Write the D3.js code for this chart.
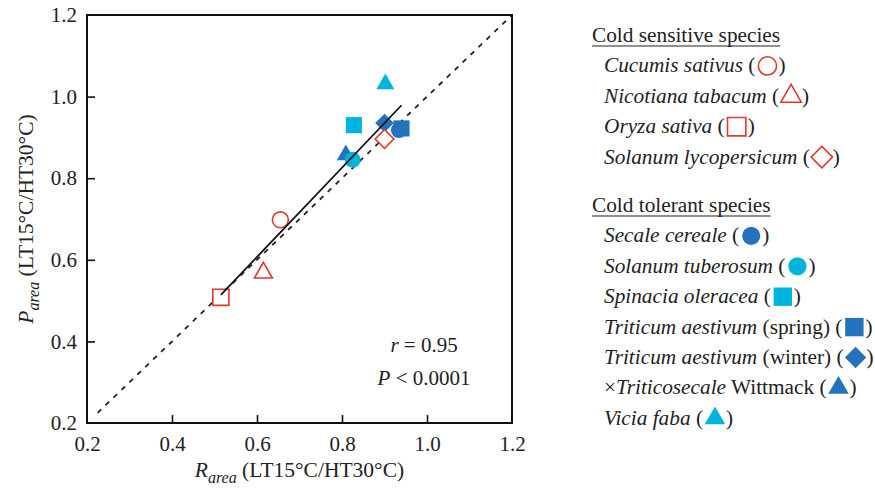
<!DOCTYPE html>
<html>
<head>
<meta charset="utf-8">
<script src="https://cdn.jsdelivr.net/npm/d3@7"></script>
<style>
  body { margin: 0; background: #fff; }
  svg { font-family: 'Liberation Serif', 'Times New Roman', serif; }
</style>
</head>
<body>
<svg width="875" height="489"></svg>
<script>
const SPECIES = [
  [['Cucumis sativus', true], [' (', false]],
  [['Nicotiana tabacum', true], [' (', false]],
  [['Oryza sativa', true], [' (', false]],
  [['Solanum lycopersicum', true], [' (', false]],
  [['Secale cereale', true], [' (', false]],
  [['Solanum tuberosum', true], [' (', false]],
  [['Spinacia oleracea', true], [' (', false]],
  [['Triticum aestivum', true], [' (spring) (', false]],
  [['Triticum aestivum', true], [' (winter) (', false]],
  [['×', false], ['Triticosecale', true], [' Wittmack (', false]],
  [['Vicia faba', true], [' (', false]]
];
const GROUP = ['sensitive', 'sensitive', 'sensitive', 'sensitive',
  'tolerant', 'tolerant', 'tolerant', 'tolerant', 'tolerant', 'tolerant', 'tolerant'];
const SHAPES = ['circle', 'triangle', 'square', 'diamond',
  'circle', 'circle', 'square', 'square', 'diamond', 'triangle', 'triangle'];
const COLORS = ['#db3a2e', '#db3a2e', '#db3a2e', '#db3a2e',
  '#2272bc', '#00b5dd', '#00b5dd', '#2272bc', '#2272bc', '#2272bc', '#00b5dd'];
const R_AREA = [0.655, 0.615, 0.515, 0.900, 0.934, 0.825, 0.828, 0.940, 0.900, 0.809, 0.902];
const P_AREA = [0.698, 0.568, 0.508, 0.896, 0.918, 0.845, 0.930, 0.922, 0.935, 0.857, 1.031];
const DRAW_ORDER = [9, 4, 7, 8, 5, 6, 10, 0, 1, 2, 3];
const HEADERS = ['Cold sensitive species', 'Cold tolerant species'];
const TICKS = [0.2, 0.4, 0.6, 0.8, 1.0, 1.2];
const STATS = [[['r', true], [' = 0.95', false]], [['P', true], [' < 0.0001', false]]];

const svg = d3.select('svg');
const margin = { top: 15, left: 87 };
const width = 425, height = 408;
const fs = 21;
const g = svg.append('g').attr('transform', `translate(${margin.left},${margin.top})`);

const x = d3.scaleLinear().domain([0.2, 1.2]).range([0, width]);
const y = d3.scaleLinear().domain([0.2, 1.2]).range([height, 0]);

const symbolType = { circle: d3.symbolCircle, triangle: d3.symbolTriangle, square: d3.symbolSquare, diamond: d3.symbolSquare };
const symbolSize = { circle: 200, triangle: 140, square: 260, diamond: 175 };

function marker(sel, i, scale) {
  const s = SHAPES[i];
  const open = GROUP[i] === 'sensitive';
  sel.append('path')
      .attr('d', d3.symbol().type(symbolType[s]).size(symbolSize[s] * scale)())
      .attr('transform', s === 'diamond' ? 'rotate(45)' : null)
      .attr('fill', open ? '#fff' : COLORS[i])
      .attr('stroke', open ? COLORS[i] : 'none')
      .attr('stroke-width', 1.6);
}

function richText(sel, parts) {
  sel.selectAll('tspan').data(parts).enter().append('tspan')
      .attr('font-style', d => d[1] ? 'italic' : 'normal')
      .text(d => d[0]);
  return sel;
}

// 1:1 line
g.append('line')
    .attr('x1', x(0.225)).attr('y1', y(0.225))
    .attr('x2', x(1.2)).attr('y2', y(1.2))
    .attr('stroke', '#222').attr('stroke-width', 1.8)
    .attr('stroke-dasharray', '5,6');

// points
DRAW_ORDER.forEach(i => {
  g.append('g')
      .attr('transform', `translate(${x(R_AREA[i])},${y(P_AREA[i])})`)
      .call(sel => marker(sel, i, 1));
});

// regression line
const mx = d3.mean(R_AREA), my = d3.mean(P_AREA);
const slope = d3.sum(R_AREA, (v, i) => (v - mx) * (P_AREA[i] - my)) / d3.sum(R_AREA, v => (v - mx) ** 2);
const icpt = my - slope * mx;
const [xmin, xmax] = d3.extent(R_AREA);
g.append('line')
    .attr('x1', x(xmin)).attr('y1', y(icpt + slope * xmin))
    .attr('x2', x(xmax)).attr('y2', y(icpt + slope * xmax))
    .attr('stroke', '#111').attr('stroke-width', 1.8);

// axes
const xAxis = g.append('g')
    .attr('transform', `translate(0,${height})`)
    .call(d3.axisBottom(x).tickValues(TICKS).tickFormat(d3.format('.1f')).tickSizeInner(-8).tickSizeOuter(0).tickPadding(13));
const yAxis = g.append('g')
    .call(d3.axisLeft(y).tickValues(TICKS).tickFormat(d3.format('.1f')).tickSizeInner(-8).tickSizeOuter(0).tickPadding(10));
[xAxis, yAxis].forEach(a => {
  a.attr('font-family', null).attr('font-size', fs);
  a.select('.domain').remove();
  a.selectAll('line').attr('stroke', '#111').attr('stroke-width', 1.6);
  a.selectAll('text').attr('fill', '#222');
  a.selectAll('.tick').filter(d => d === 0.2 || d === 1.2).select('line').remove();
});

// frame
g.append('rect')
    .attr('width', width).attr('height', height)
    .attr('fill', 'none').attr('stroke', '#111').attr('stroke-width', 2);

// stats text
STATS.forEach((parts, k) => {
  g.append('text')
      .attr('x', x(0.993)).attr('y', y(0.2 + (k ? 0.093 : 0.173)))
      .attr('text-anchor', 'middle').attr('font-size', fs).attr('fill', '#222')
      .call(richText, parts);
});

// axis titles
function axisTitle(sel, letter) {
  sel.attr('font-size', fs + 0.5).attr('fill', '#222').attr('text-anchor', 'middle');
  sel.append('tspan').attr('font-style', 'italic').text(letter);
  sel.append('tspan').attr('font-style', 'italic').attr('font-size', 16).attr('dy', 6).text('area');
  sel.append('tspan').attr('dy', -6).text(' (LT15°C/HT30°C)');
}
svg.append('text')
    .attr('x', margin.left + width / 2).attr('y', 477)
    .call(axisTitle, 'R');
svg.append('text')
    .attr('transform', `translate(33,${margin.top + height / 2}) rotate(-90)`)
    .call(axisTitle, 'P');

// legend
const legend = svg.append('g').attr('font-size', fs + 0.3).attr('fill', '#222');
const step = 30.4;
HEADERS.forEach((h, k) => {
  const yy = k ? 212 : 42;
  const t = legend.append('text').attr('x', 592).attr('y', yy).text(h);
  const w = t.node().getComputedTextLength();
  legend.append('line')
      .attr('x1', 592).attr('x2', 592 + w)
      .attr('y1', yy + 4).attr('y2', yy + 4)
      .attr('stroke', '#222').attr('stroke-width', 1.1);
  const members = d3.range(SPECIES.length).filter(i => GROUP[i] === (k ? 'tolerant' : 'sensitive'));
  members.forEach((i, j) => {
    const yi = yy + step * (j + 1);
    const t1 = legend.append('text').attr('x', 604).attr('y', yi).call(richText, SPECIES[i]);
    const w1 = t1.node().getComputedTextLength();
    legend.append('g')
        .attr('transform', `translate(${604 + w1 + 12},${yi - 6.5})`)
        .call(sel => marker(sel, i, 1.3));
    legend.append('text').attr('x', 604 + w1 + 23).attr('y', yi).text(')');
  });
});
</script>
</body>
</html>
